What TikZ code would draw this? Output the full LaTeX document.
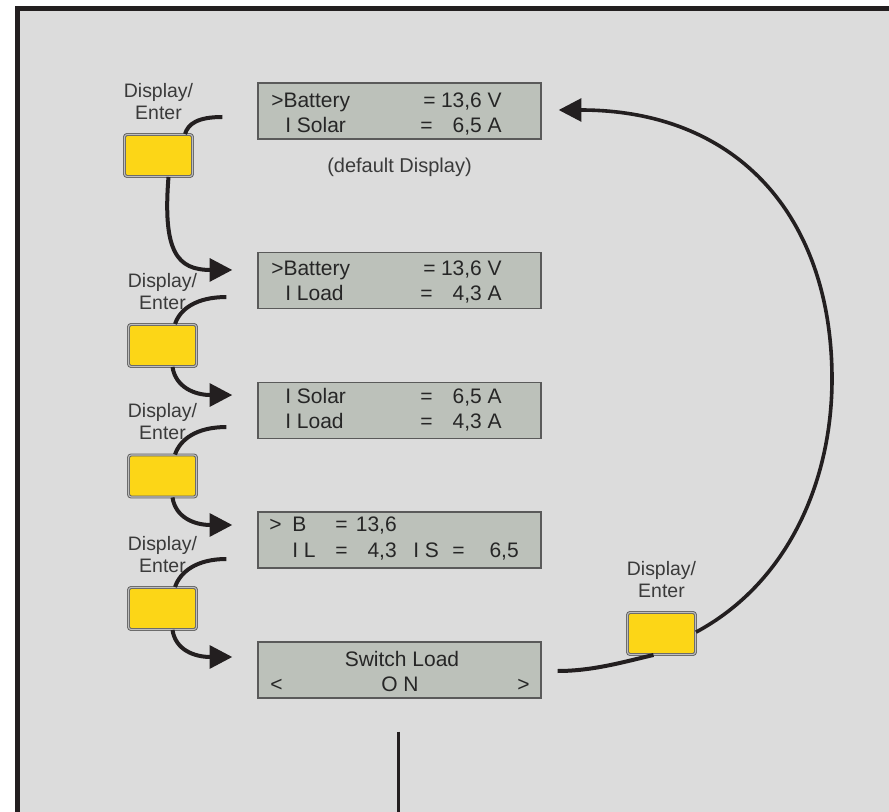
\documentclass[tikz,border=0pt]{standalone}
\usepackage{fontspec}
\setmainfont{Liberation Sans}
\usetikzlibrary{arrows.meta}
\definecolor{panel}{HTML}{DCDCDC}
\definecolor{frameink}{HTML}{231F20}
\definecolor{lcdfill}{HTML}{BCC1BA}
\definecolor{lcdedge}{HTML}{5A5A5A}
\definecolor{keyfill}{HTML}{FCD617}
\definecolor{ink}{HTML}{231F20}
\definecolor{labelink}{HTML}{3A3A3A}
\definecolor{lcdink}{HTML}{262626}
\newcommand{\lcdfont}{\fontsize{15.75pt}{18pt}\selectfont}
\newcommand{\keyfont}{\fontsize{14.6pt}{16.5pt}\selectfont}

\begin{document}
\begin{tikzpicture}[x=0.75pt,y=-0.75pt,
	lcd/.style={draw=lcdedge, fill=lcdfill, line width=1pt, minimum width=212.25pt, minimum height=42pt, inner sep=0pt},
	lcdtxt/.style={font=\lcdfont, text=lcdink, inner sep=0pt},
	key/.style={draw=black!62, double=black!25, double distance=0.8pt, line width=0.7pt, fill=keyfill, rounded corners=2pt, minimum width=51pt, minimum height=31.5pt, inner sep=0pt},
	keylabel/.style={align=center, font=\keyfont, text=labelink, inner sep=0pt, anchor=south},
	flow/.style={draw=ink, line width=3pt},
	flowarrow/.style={flow, -{Triangle[length=17pt,width=17pt]}},
	arcarrow/.style={draw=ink, line width=2.7pt, -{Triangle[length=17pt,width=17pt]}}]
	
	\useasboundingbox (0,0) rectangle (889,812);
	\fill[white] (0,0) rectangle (889,812);
	\clip (0,0) rectangle (889,812);
	\draw[draw=frameink, fill=panel, line width=3.75pt] (17.5,8.5) rectangle (910,830);
	
	\node[lcd] (lcd1) at (399.5,111) {};
	\node[lcd] (lcd2) at (399.5,280.5) {};
	\node[lcd] (lcd3) at (399.5,410.5) {};
	\node[lcd] (lcd4) at (399.5,540) {};
	\node[lcd] (lcd5) at (399.5,670) {};
	\node[keylabel, font=\fontsize{15pt}{17pt}\selectfont, anchor=base] (dflt) at ([yshift=-24.75pt]lcd1.south) {(default Display)};
	
	\node[lcdtxt, anchor=base west] (s1a) at (271,108) {>Battery};
	\node[lcdtxt, anchor=base west] (s1b) at (423,108) {=};
	\node[lcdtxt, anchor=base east] (s1c) at (502,108) {13,6 V};
	\node[lcdtxt, anchor=base west] (s1d) at (285,133) {I Solar};
	\node[lcdtxt, anchor=base west] (s1e) at (420,133) {=};
	\node[lcdtxt, anchor=base east] (s1f) at (502,133) {6,5 A};
	
	\node[lcdtxt, anchor=base west] (s2a) at (271,276) {>Battery};
	\node[lcdtxt, anchor=base west] (s2b) at (423,276) {=};
	\node[lcdtxt, anchor=base east] (s2c) at (502,276) {13,6 V};
	\node[lcdtxt, anchor=base west] (s2d) at (285,301) {I Load};
	\node[lcdtxt, anchor=base west] (s2e) at (420,301) {=};
	\node[lcdtxt, anchor=base east] (s2f) at (502,301) {4,3 A};
	
	\node[lcdtxt, anchor=base west] (s3a) at (285,404) {I Solar};
	\node[lcdtxt, anchor=base west] (s3b) at (420,404) {=};
	\node[lcdtxt, anchor=base east] (s3c) at (502,404) {6,5 A};
	\node[lcdtxt, anchor=base west] (s3d) at (285,429) {I Load};
	\node[lcdtxt, anchor=base west] (s3e) at (420,429) {=};
	\node[lcdtxt, anchor=base east] (s3f) at (502,429) {4,3 A};
	
	\node[lcdtxt, anchor=base west] (s4a) at (269,532) {>};
	\node[lcdtxt, anchor=base west] (s4b) at (292,532) {B};
	\node[lcdtxt, anchor=base west] (s4c) at (335,532) {=};
	\node[lcdtxt, anchor=base east] (s4d) at (397,532) {13,6};
	\node[lcdtxt, anchor=base west] (s4e) at (292,558) {I L};
	\node[lcdtxt, anchor=base west] (s4f) at (335,558) {=};
	\node[lcdtxt, anchor=base east] (s4g) at (397,558) {4,3};
	\node[lcdtxt, anchor=base west] (s4h) at (413,558) {I S};
	\node[lcdtxt, anchor=base west] (s4i) at (452,558) {=};
	\node[lcdtxt, anchor=base east] (s4j) at (519,558) {6,5};
	
	\node[lcdtxt, anchor=base] (s5a) at (402,666) {Switch Load};
	\node[lcdtxt, anchor=base west] (s5b) at (270,691) {<};
	\node[lcdtxt, anchor=base] (s5c) at (400,691) {O N};
	\node[lcdtxt, anchor=base east] (s5d) at (530,691) {>};
	
	\node[key] (btn1) at (158.5,155.5) {};
	\node[key] (btn2) at (162.5,345.5) {};
	\node[key] (btn3) at (162.5,476) {};
	\node[key] (btn4) at (162.5,608.5) {};
	\node[key] (btnR) at (661.5,633.5) {};
	\node[keylabel] (cap1) at ([yshift=10.9pt]btn1.north) {Display/\\Enter};
	\node[keylabel] (cap2) at ([yshift=10.9pt]btn2.north) {Display/\\Enter};
	\node[keylabel] (cap3) at ([yshift=10.9pt]btn3.north) {Display/\\Enter};
	\node[keylabel] (cap4) at ([yshift=10.9pt]btn4.north) {Display/\\Enter};
	\node[keylabel] (capR) at ([yshift=10.9pt]btnR.north) {Display/\\Enter};
	
	\draw[flow] ([xshift=-26.25pt,yshift=-4.5pt]lcd1.west) .. controls +(-25,0) and +(3,-10) .. ([xshift=19.9pt]btn1.north);
	\draw[flowarrow] ([xshift=7.5pt]btn1.south) .. controls +(-6,75) and +(-55,0) .. ([xshift=-18.75pt,yshift=7.9pt]lcd2.west);
	\draw[flow] ([xshift=-23.25pt,yshift=-12.4pt]lcd2.west) .. controls +(-30,0) and +(5,-15) .. ([xshift=9.4pt]btn2.north);
	\draw[flowarrow] ([xshift=7.5pt]btn2.south) .. controls +(3,20) and +(-38,0) .. ([xshift=-18.75pt,yshift=11.6pt]lcd3.west);
	\draw[flow] ([xshift=-23.25pt,yshift=-12.4pt]lcd3.west) .. controls +(-30,0) and +(5,-15) .. ([xshift=9.4pt]btn3.north);
	\draw[flowarrow] ([xshift=7.5pt]btn3.south) .. controls +(3,20) and +(-38,0) .. ([xshift=-18.75pt,yshift=11.25pt]lcd4.west);
	\draw[flow] ([xshift=-23.25pt,yshift=-14.25pt]lcd4.west) .. controls +(-30,0) and +(5,-15) .. ([xshift=9.4pt]btn4.north);
	\draw[flowarrow] ([xshift=7.5pt]btn4.south) .. controls +(3,20) and +(-38,0) .. ([xshift=-18.75pt,yshift=9.75pt]lcd5.west);
	\draw[flow] ([xshift=12pt,yshift=-0.75pt]lcd5.east) .. controls +(35,0) and +(-30,7) .. ([xshift=-6pt]btnR.south);
	\draw[arcarrow] ([yshift=1pt]btnR.east) .. controls +(93,-50) and +(0,101) .. (832,379) .. controls +(0,-159) and +(182,0) .. ([xshift=12.75pt,yshift=0.75pt]lcd1.east);
	\draw[draw=ink, line width=2.25pt] ([xshift=-1pt,yshift=-24.75pt]lcd5.south) -- ++(0,100);
\end{tikzpicture}
\end{document}
